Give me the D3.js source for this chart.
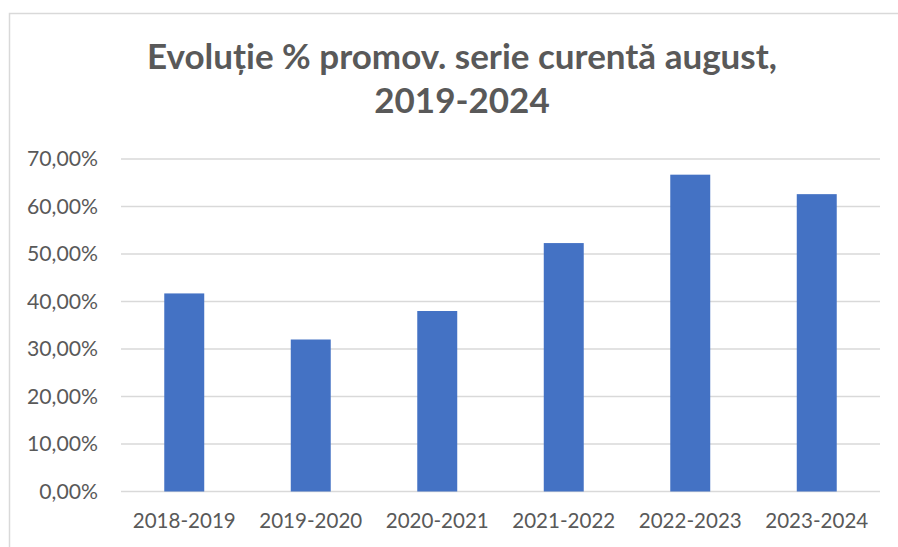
<!DOCTYPE html>
<html><head><meta charset="utf-8">
<script src="https://cdn.jsdelivr.net/npm/d3@7"></script>
<style>body{margin:0;background:#fff}svg{display:block}</style>
</head><body>
<script>
const categories = ["2018-2019","2019-2020","2020-2021","2021-2022","2022-2023","2023-2024"];
const values = [0.417, 0.320, 0.380, 0.523, 0.667, 0.626];
const yTicks = [0,0.1,0.2,0.3,0.4,0.5,0.6,0.7];
const titleLines = ["Evoluție % promov. serie curentă august,", "2019-2024"];

(function () {
const W = 898, H = 547;
const svg = d3.select("body").append("svg").attr("width", W).attr("height", H);
const font = "Lato, 'Open Sans', sans-serif";

// chart area border
svg.append("rect").attr("x", 9.5).attr("y", 13.5).attr("width", W + 20).attr("height", H + 20)
  .attr("fill", "#fff").attr("stroke", "#d9d9d9").attr("stroke-width", 1.5);

const pLeft = 121, pRight = 880, pTop = 159, pBottom = 491.5;
const x = d3.scaleBand().domain(categories).range([pLeft, pRight]).paddingInner(0.684).paddingOuter(0.342);
const y = d3.scaleLinear().domain([0, 0.7]).range([pBottom, pTop]);

// gridlines
svg.append("g").selectAll("line").data(yTicks).join("line")
  .attr("x1", pLeft).attr("x2", pRight).attr("y1", d => y(d)).attr("y2", d => y(d))
  .attr("stroke", "#d9d9d9").attr("stroke-width", 1.5);

// bars
svg.append("g").selectAll("rect").data(values).join("rect")
  .attr("x", (d, i) => x(categories[i])).attr("width", x.bandwidth())
  .attr("y", d => y(d)).attr("height", d => y(0) - y(d))
  .attr("fill", "#4472c4");

const fmt = d => d3.format(".2f")(d * 100).replace(".", ",") + "%";

// y labels
const yl = svg.append("g").selectAll("text").data(yTicks).join("text")
  .attr("x", 98).attr("y", d => y(d)).attr("dy", "0.35em").attr("text-anchor", "end")
  .attr("font-family", font).attr("font-size", 17).attr("fill", "#595959").text(fmt);

// x labels
const xl = svg.append("g").selectAll("text").data(categories).join("text")
  .attr("x", d => x(d) + x.bandwidth() / 2).attr("y", 528).attr("text-anchor", "middle")
  .attr("font-family", font).attr("font-size", 17).attr("fill", "#595959").text(d => d);

function fit(sel, target) {
  const w = sel.node().getComputedTextLength();
  const fs = parseFloat(sel.attr("font-size"));
  return fs * target / w;
}
const fsX = fit(xl.filter((d, i) => i === 0), 103);
xl.attr("font-size", fsX);
const fsY = fit(yl.filter((d, i) => i === 7), 71);
yl.attr("font-size", fsY);

// title
const t = svg.append("g").attr("font-family", font).attr("font-weight", "bold").attr("fill", "#595959");
const t1 = t.append("text").attr("x", 462).attr("y", 69).attr("text-anchor", "middle").attr("font-size", 30).text(titleLines[0]);
const fsT = fit(t1, 630);
t1.attr("font-size", fsT);
t.append("text").attr("x", 462).attr("y", 113).attr("text-anchor", "middle").attr("font-size", fsT).text(titleLines[1]);
})();
</script>
</body></html>
